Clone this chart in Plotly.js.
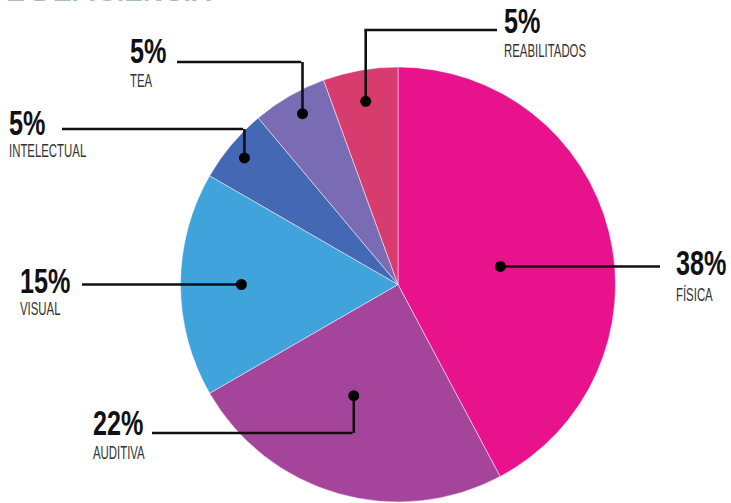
<!DOCTYPE html>
<html><head><meta charset="utf-8">
<script src="https://cdn.plot.ly/plotly-3.0.1.min.js"></script>
<style>html,body{margin:0;padding:0;background:#fff;overflow:hidden}</style>
</head><body><div id="chart" style="width:731px;height:503px"></div>
<script>
// ---- data ----
const categories = ['FÍSICA', 'AUDITIVA', 'VISUAL', 'INTELECTUAL', 'TEA', 'REABILITADOS'];
const values = [38, 22, 15, 5, 5, 5];
const percentLabels = ['38%', '22%', '15%', '5%', '5%', '5%'];
const titleText = 'E DEFICIÊNCIA';

// ---- style / layout ----
const sliceColors = ['#e8128d', '#a4449a', '#40a3dc', '#4468b4', '#7a6cb4', '#d83b6e'];
const W = 731, H = 503;
const DOM = {x0: 180, x1: 616, y0: 67, y1: 502}; // pie domain in px
const leaders = [
  {frac: 0.478, dAng: 4.0, mode: 'h', endX: 660, labelX: 675, pctY: 262, subY: 294},
  {frac: 0.55, dAng: 5.7, mode: 'v', elbowY: 433, endX: 152, labelX: 92, pctY: 422.5, subY: 452.5},
  {frac: 0.72, dAng: 0, mode: 'h', endX: 82, labelX: 19, pctY: 280, subY: 308},
  {frac: 0.915, dAng: -0.5, mode: 'v', elbowY: 129, endX: 62, labelX: 8, pctY: 122, subY: 151},
  {frac: 0.9, dAng: 0.8, mode: 'v', elbowY: 62, endX: 177, labelX: 129, pctY: 50.5, subY: 80.5},
  {frac: 0.855, dAng: 0, mode: 'v', elbowY: 30, endX: 497, labelX: 503, pctY: 20.5, subY: 50}
];
const px = x => x / W;
const py = y => 1 - y / H;

const cx = (DOM.x0 + DOM.x1) / 2, cy = (DOM.y0 + DOM.y1) / 2;
const R = Math.min(DOM.x1 - DOM.x0, DOM.y1 - DOM.y0) / 2;
const total = values.reduce((a, b) => a + b, 0);

const shapes = [], annotations = [], annScale = [];
const lineStyle = {color: '#111', width: 2.6};
let acc = 0;
values.forEach((v, i) => {
  const mid = (acc + v / 2) / total * 360;
  acc += v;
  const L = leaders[i];
  const a = (mid + L.dAng) * Math.PI / 180;
  const dx = cx + L.frac * R * Math.sin(a);
  const dy = cy - L.frac * R * Math.cos(a);
  if (L.mode === 'h') {
    shapes.push({type: 'line', xref: 'paper', yref: 'paper', x0: px(dx), y0: py(dy), x1: px(L.endX), y1: py(dy), line: lineStyle});
  } else {
    shapes.push({type: 'line', xref: 'paper', yref: 'paper', x0: px(dx), y0: py(dy), x1: px(dx), y1: py(L.elbowY), line: lineStyle});
    shapes.push({type: 'line', xref: 'paper', yref: 'paper', x0: px(dx - 1.3), y0: py(L.elbowY), x1: px(L.endX), y1: py(L.elbowY), line: lineStyle});
  }
  shapes.push({type: 'circle', xref: 'paper', yref: 'paper', xsizemode: 'pixel', ysizemode: 'pixel',
    xanchor: px(dx), yanchor: py(dy), x0: -5.5, x1: 5.5, y0: -5.5, y1: 5.5,
    fillcolor: '#000', line: {width: 0}});
  annotations.push({text: percentLabels[i], xref: 'paper', yref: 'paper', x: px(L.labelX), y: py(L.pctY),
    xanchor: 'left', yanchor: 'middle', showarrow: false, align: 'left', borderpad: 0,
    font: {family: 'Liberation Sans, Arial, sans-serif', size: 36, color: '#111', weight: 'bold'}});
  annScale.push(0.7);
  annotations.push({text: categories[i], xref: 'paper', yref: 'paper', x: px(L.labelX), y: py(L.subY),
    xanchor: 'left', yanchor: 'middle', showarrow: false, align: 'left', borderpad: 0,
    font: {family: 'Liberation Sans, Arial, sans-serif', size: 19, color: '#333'}});
  annScale.push(0.6);
});
annotations.push({text: titleText, xref: 'paper', yref: 'paper', x: px(4), y: py(-9),
  xanchor: 'left', yanchor: 'middle', showarrow: false,
  font: {family: 'Liberation Sans, Arial, sans-serif', size: 28, color: '#a6bacb', weight: 'bold'}});
annScale.push(1);

const data = [{
  type: 'pie', labels: categories, values: values, sort: false, direction: 'clockwise', rotation: 0,
  textinfo: 'none', hoverinfo: 'skip',
  marker: {colors: sliceColors, line: {color: 'rgba(255,255,255,0.6)', width: 0.8}},
  domain: {x: [px(DOM.x0), px(DOM.x1)], y: [py(DOM.y1), py(DOM.y0)]}
}];
const layout = {width: W, height: H, margin: {l: 0, r: 0, t: 0, b: 0}, showlegend: false,
  paper_bgcolor: '#fff', shapes: shapes, annotations: annotations};

Plotly.newPlot('chart', data, layout, {staticPlot: true, displayModeBar: false}).then(gd => {
  gd.querySelectorAll('g.annotation').forEach(g => {
    const i = +g.getAttribute('data-index');
    const s = annScale[i];
    if (!s || s === 1) return;
    const t = g.querySelector('text.annotation-text');
    if (!t) return;
    const bb = t.getBBox();
    const prev = t.getAttribute('transform') || '';
    t.setAttribute('transform', prev + ' translate(' + bb.x + ',0) scale(' + s + ',1) translate(' + (-bb.x) + ',0)');
  });
});
</script></body></html>
